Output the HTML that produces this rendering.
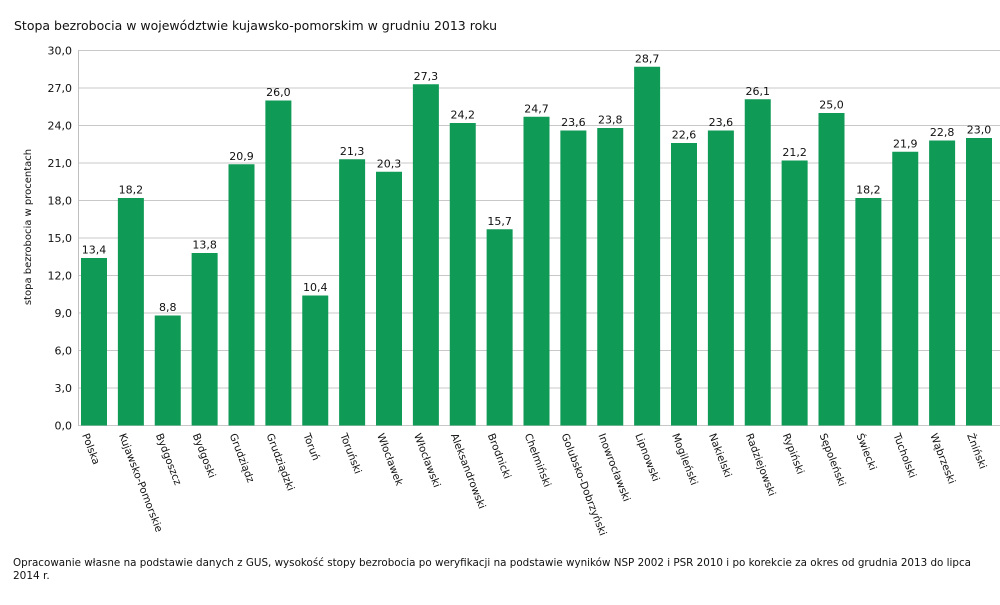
<!DOCTYPE html>
<html>
<head>
<meta charset="utf-8">
<style>
html,body{margin:0;padding:0;background:#fff;}
body{width:1000px;height:600px;overflow:hidden;}
svg text{font-family:"DejaVu Sans","Liberation Sans",sans-serif;fill:#111;}
</style>
</head>
<body>
<svg width="1000" height="600" viewBox="0 0 1000 600" xmlns="http://www.w3.org/2000/svg">
<rect width="1000" height="600" fill="#fff"/>
<text x="14" y="30" font-size="12.5" textLength="483" lengthAdjust="spacingAndGlyphs">Stopa bezrobocia w województwie kujawsko-pomorskim w grudniu 2013 roku</text>
<g id="grid" stroke="#c8c8c8" stroke-width="1"></g>
<line x1="78.5" y1="50" x2="78.5" y2="426" stroke="#c0c0c0" stroke-width="1"/>
<g id="ticks" font-size="11" text-anchor="end"></g>
<text transform="translate(31,227) rotate(-90)" font-size="10" text-anchor="middle">stopa bezrobocia w procentach</text>
<g id="bars"></g>
<text x="13" y="566" font-size="10.5" textLength="958" lengthAdjust="spacingAndGlyphs">Opracowanie własne na podstawie danych z GUS, wysokość stopy bezrobocia po weryfikacji na podstawie wyników NSP 2002 i PSR 2010 i po korekcie za okres od grudnia 2013 do lipca</text>
<text x="13" y="579" font-size="10.5">2014 r.</text>
</svg>
<script>
var NS="http://www.w3.org/2000/svg";
function el(tag,attrs,txt){var e=document.createElementNS(NS,tag);for(var k in attrs)e.setAttribute(k,attrs[k]);if(txt!==undefined)e.textContent=txt;return e;}
var y0=425.5, k=12.5;
var grid=document.getElementById('grid'), ticks=document.getElementById('ticks');
for(var v=0;v<=30;v+=3){
  var y=y0-v*k;
  grid.appendChild(el('line',{x1:78,y1:y,x2:1000,y2:y}));
  ticks.appendChild(el('text',{x:72,y:y+4},v.toFixed(1).replace('.',',')));
}
var data=[["Polska",13.4],["Kujawsko-Pomorskie",18.2],["Bydgoszcz",8.8],["Bydgoski",13.8],["Grudziądz",20.9],["Grudziądzki",26.0],["Toruń",10.4],["Toruński",21.3],["Włocławek",20.3],["Włocławski",27.3],["Aleksandrowski",24.2],["Brodnicki",15.7],["Chełmiński",24.7],["Golubsko-Dobrzyński",23.6],["Inowrocławski",23.8],["Lipnowski",28.7],["Mogileński",22.6],["Nakielski",23.6],["Radziejowski",26.1],["Rypiński",21.2],["Sępoleński",25.0],["Świecki",18.2],["Tucholski",21.9],["Wąbrzeski",22.8],["Żniński",23.0]];
var bars=document.getElementById('bars');
data.forEach(function(d,i){
  var x=81+i*36.875, w=26, top=y0-d[1]*k;
  bars.appendChild(el('rect',{x:x,y:top,width:w,height:y0-top,fill:'#0f9a56'}));
  bars.appendChild(el('text',{x:x+w/2,y:top-4.5,'font-size':11,'text-anchor':'middle'},d[1].toFixed(1).replace('.',',')));
  var ax=x+1, ay=435;
  bars.appendChild(el('text',{x:0,y:0,'font-size':10.3,transform:'translate('+ax+','+ay+') rotate(69)'},d[0]));
});
</script>
</body>
</html>
